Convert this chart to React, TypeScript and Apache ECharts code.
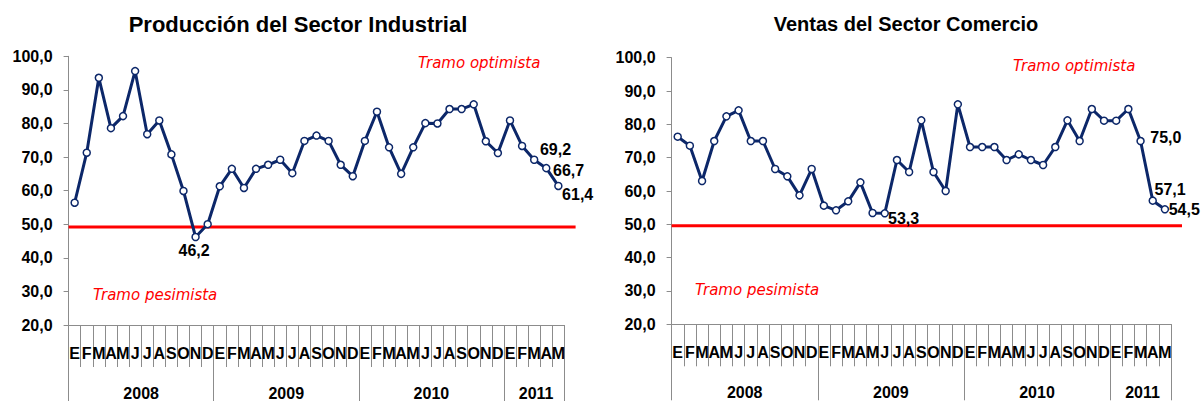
import { useEffect, useRef } from 'react';
import * as echarts from 'echarts';

// ---- data ----
const monthLetters = ['E', 'F', 'M', 'A', 'M', 'J', 'J', 'A', 'S', 'O', 'N', 'D'];
const years = ['2008', '2009', '2010', '2011'];
const monthsPerYear = [12, 12, 12, 5];

const industrialValues = [
  56.4, 71.3, 93.6, 78.6, 82.2, 95.6, 76.8, 80.9, 70.8, 59.9, 46.2, 50.0,
  61.3, 66.5, 60.8, 66.5, 67.7, 69.2, 65.2, 74.8, 76.4, 74.8, 67.7, 64.3,
  74.8, 83.5, 72.9, 65.0, 72.9, 80.1, 80.0, 84.3, 84.3, 85.7, 74.7, 71.2,
  80.9, 73.3, 69.2, 66.7, 61.4,
];
const commerceValues = [
  76.3, 73.6, 63.0, 75.0, 82.4, 84.2, 75.0, 75.0, 66.6, 64.4, 58.7, 66.6,
  55.6, 54.2, 56.9, 62.6, 53.4, 53.3, 69.3, 65.7, 81.2, 65.7, 60.0, 86.0,
  73.2, 73.2, 73.2, 69.3, 71.0, 69.3, 67.8, 73.2, 81.2, 75.0, 84.6, 81.1,
  81.1, 84.6, 75.0, 57.1, 54.5,
];
const industrialThreshold = 49.2;
const commerceThreshold = 49.6;
const industrialLabelled = [10, 38, 39, 40];
const commerceLabelled = [17, 38, 39, 40];
const chartTitles = ['Producción del Sector Industrial', 'Ventas del Sector Comercio'];
const optimistText = 'Tramo optimista';
const pessimistText = 'Tramo pesimista';
const yMin = 20;
const yMax = 100;
const yStep = 10;

// ---- derived categories ----
const categories: string[] = years.flatMap((_, i) => monthLetters.slice(0, monthsPerYear[i]));
const yearStarts: number[] = [];
{
  let acc = 0;
  monthsPerYear.forEach((n) => {
    yearStarts.push(acc);
    acc += n;
  });
}
const yearLabelInfo = years.map((y, i) => ({
  year: y,
  index: yearStarts[i] + Math.floor((monthsPerYear[i] - 1) / 2),
  half: monthsPerYear[i] % 2 === 0,
}));
const yearAxisData = categories.map((_, i) => {
  const info = yearLabelInfo.find((d) => d.index === i);
  return info ? info.year : '';
});

const FONT = "'Liberation Sans', Arial, sans-serif";
const NAVY = '#0C2769';
const GRAY = '#8C8C8C';
const RED = '#FF0000';

const fmt = (v: number) => v.toFixed(1).replace('.', ',');

type Place = { position: string; offset: [number, number] };

const panels = [
  {
    title: chartTitles[0],
    titleSize: 22,
    values: industrialValues,
    threshold: industrialThreshold,
    labelled: industrialLabelled,
    grid: { left: 68.6, top: 56.3, width: 495.8, height: 269 },
    redWidth: 507,
    titleX: 298,
    opt: [418, 63],
    pes: [93, 295],
    places: {
      10: { position: 'bottom', offset: [-1.5, 1] },
      38: { position: 'right', offset: [1.5, -10] },
      39: { position: 'right', offset: [2.5, 2] },
      40: { position: 'right', offset: [-0.5, 9] },
    } as Record<number, Place>,
  },
  {
    title: chartTitles[1],
    titleSize: 20,
    values: commerceValues,
    threshold: commerceThreshold,
    labelled: commerceLabelled,
    grid: { left: 671.6, top: 57.7, width: 499.4, height: 266.6 },
    redWidth: 510.4,
    titleX: 906,
    opt: [1013, 66],
    pes: [695, 290],
    places: {
      17: { position: 'right', offset: [-1, 5] },
      38: { position: 'right', offset: [5.5, -4] },
      39: { position: 'right', offset: [-2.5, -11] },
      40: { position: 'right', offset: [-0.5, 0.5] },
    } as Record<number, Place>,
  },
];

function buildOption() {
  const grid: any[] = [];
  const xAxis: any[] = [];
  const yAxis: any[] = [];
  const series: any[] = [];
  const graphic: any[] = [];

  panels.forEach((p, c) => {
    grid.push({ ...p.grid, containLabel: false });
    grid.push({ left: p.grid.left, top: p.grid.top, width: p.redWidth, height: p.grid.height, containLabel: false });
    const bandW = p.grid.width / categories.length;

    // month axis
    xAxis.push({
      type: 'category',
      gridIndex: 2 * c,
      data: categories,
      position: 'bottom',
      boundaryGap: true,
      axisLine: { show: true, lineStyle: { color: GRAY, width: 1 } },
      axisTick: { show: true, interval: 0, length: 42, lineStyle: { color: GRAY, width: 1 } },
      axisLabel: {
        interval: 0,
        margin: 20,
        color: '#000',
        fontSize: 16,
        fontWeight: 'bold',
        fontFamily: FONT,
      },
      splitLine: { show: false },
    });
    // year axis
    xAxis.push({
      type: 'category',
      gridIndex: 2 * c,
      data: yearAxisData,
      position: 'bottom',
      boundaryGap: true,
      axisLine: { show: false },
      axisTick: {
        show: true,
        interval: (i: number) => yearStarts.includes(i),
        length: 76,
        lineStyle: { color: GRAY, width: 1 },
      },
      axisLabel: {
        interval: 0,
        margin: 60,
        color: '#000',
        fontSize: 16,
        fontWeight: 'bold',
        fontFamily: FONT,
        formatter: (v: string, i: number) => {
          if (!v) return '';
          const info = yearLabelInfo.find((d) => d.index === i);
          return info && info.half ? `{s|${v}}` : `{n|${v}}`;
        },
        rich: {
          s: { padding: [0, 0, 0, bandW], fontSize: 16, fontWeight: 'bold', fontFamily: FONT, color: '#000' },
          n: { padding: [0, 0, 0, 4], fontSize: 16, fontWeight: 'bold', fontFamily: FONT, color: '#000' },
        },
      },
      splitLine: { show: false },
    });
    // red line x axis
    xAxis.push({ type: 'value', gridIndex: 2 * c + 1, min: 0, max: 1, show: false });

    yAxis.push({
      type: 'value',
      gridIndex: 2 * c,
      min: yMin,
      max: yMax,
      interval: yStep,
      axisLine: { show: true, lineStyle: { color: GRAY, width: 1 } },
      axisTick: { show: true, length: 5, lineStyle: { color: GRAY, width: 1 } },
      splitLine: { show: false },
      axisLabel: {
        margin: 16,
        color: '#000',
        fontSize: 16,
        fontWeight: 'bold',
        fontFamily: FONT,
        formatter: (v: number) => fmt(v),
      },
    });
    yAxis.push({ type: 'value', gridIndex: 2 * c + 1, min: yMin, max: yMax, show: false });

    series.push({
      type: 'line',
      xAxisIndex: 3 * c + 2,
      yAxisIndex: 2 * c + 1,
      data: [
        [0, p.threshold],
        [1, p.threshold],
      ],
      symbol: 'none',
      lineStyle: { color: RED, width: 3 },
      z: 2,
      silent: true,
    });

    series.push({
      type: 'line',
      xAxisIndex: 3 * c,
      yAxisIndex: 2 * c,
      z: 3,
      data: p.values.map((v, i) => {
        if (!p.labelled.includes(i)) return v;
        const pl = p.places[i];
        return {
          value: v,
          label: {
            show: true,
            position: pl.position,
            offset: pl.offset,
            distance: 0,
            formatter: (d: any) => fmt(d.value),
            color: '#000',
            fontSize: 16,
            fontWeight: 'bold',
            fontFamily: FONT,
          },
        };
      }),
      symbol: 'circle',
      symbolSize: 7,
      showAllSymbol: true,
      itemStyle: { color: '#FFFFFF', borderColor: NAVY, borderWidth: 1.5 },
      lineStyle: { color: NAVY, width: 3 },
      label: { show: false },
    });

    graphic.push({
      type: 'text',
      x: p.titleX,
      y: 24,
      style: {
        text: p.title,
        align: 'center',
        verticalAlign: 'middle',
        fill: '#000',
        fontSize: p.titleSize,
        fontWeight: 'bold',
        fontFamily: FONT,
      },
    });
    graphic.push({
      type: 'text',
      x: p.opt[0],
      y: p.opt[1],
      style: {
        text: optimistText,
        verticalAlign: 'middle',
        fill: RED,
        fontSize: 15,
        fontStyle: 'italic',
        fontFamily: "'DejaVu Sans', sans-serif",
      },
    });
    graphic.push({
      type: 'text',
      x: p.pes[0],
      y: p.pes[1],
      style: {
        text: pessimistText,
        verticalAlign: 'middle',
        fill: RED,
        fontSize: 15,
        fontStyle: 'italic',
        fontFamily: "'DejaVu Sans', sans-serif",
      },
    });
  });

  return {
    animation: false,
    backgroundColor: '#FFFFFF',
    grid,
    xAxis,
    yAxis,
    series,
    graphic,
    tooltip: { show: false },
  };
}

export default function App() {
  const ref = useRef<HTMLDivElement>(null);
  useEffect(() => {
    document.body.style.margin = '0';
    if (!ref.current) return;
    const chart = echarts.init(ref.current, undefined, { renderer: 'svg' });
    chart.setOption(buildOption() as any);
    return () => chart.dispose();
  }, []);
  return <div ref={ref} style={{ width: 1201, height: 401 }} />;
}
